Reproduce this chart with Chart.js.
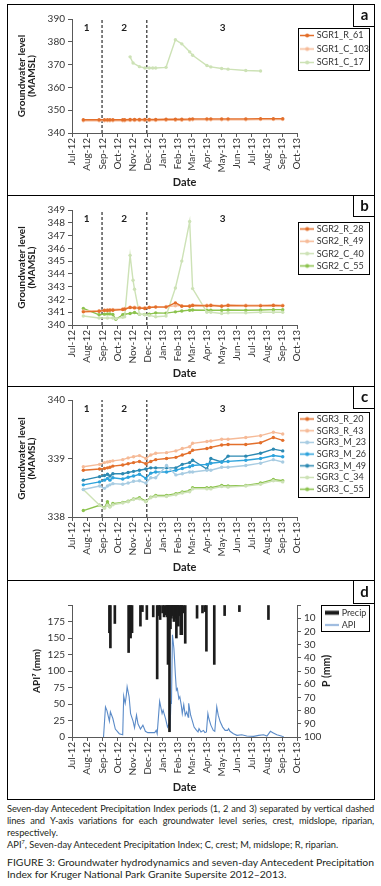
<!DOCTYPE html>
<html><head><meta charset="utf-8">
<script src="https://cdn.jsdelivr.net/npm/chart.js@4.4.0/dist/chart.umd.min.js"></script>
<style>
html,body{margin:0;padding:0;background:#fff;}
body{width:381px;height:886px;position:relative;overflow:hidden;font-family:Lato,'Open Sans',sans-serif;}
.frame{position:absolute;left:7px;top:4px;width:368px;height:796px;border:1px solid #000;box-sizing:border-box;}
.divider{position:absolute;left:7px;width:368px;height:1px;background:#000;}
canvas{position:absolute;left:8px;}
.tag{position:absolute;left:353px;width:22px;border-left:1px solid #000;border-bottom:1px solid #000;box-sizing:border-box;font:bold 15px Lato,sans-serif;color:#111;text-align:center;}
.cap{position:absolute;left:7px;width:367px;font-family:Lato,sans-serif;font-size:9.3px;line-height:12px;color:#231f20;white-space:nowrap;}
.j{text-align:justify;text-align-last:justify;}
.tight{letter-spacing:-0.12px;}
.fig{font-family:Lato,sans-serif;font-size:10.4px;line-height:12px;letter-spacing:0;}
</style></head>
<body>
<div class="frame"></div>
<div class="divider" style="top:195px"></div>
<div class="divider" style="top:386px"></div>
<div class="divider" style="top:580px"></div>
<canvas id="ca" width="365" height="190" style="top:5px"></canvas>
<canvas id="cb" width="365" height="190" style="top:196px"></canvas>
<canvas id="cc" width="365" height="193" style="top:387px"></canvas>
<canvas id="cd" width="365" height="218" style="top:581px"></canvas>
<div class="tag" style="top:4px;height:23px;line-height:21px">a</div>
<div class="tag" style="top:195px;height:22px;line-height:20px">b</div>
<div class="tag" style="top:386px;height:23px;line-height:21px">c</div>
<div class="tag" style="top:580px;height:24px;line-height:22px">d</div>
<div class="cap j tight" style="top:803px">Seven-day Antecedent Precipitation Index periods (1, 2 and 3) separated by vertical dashed</div>
<div class="cap j tight" style="top:815px">lines and Y-axis variations for each groundwater level series, crest, midslope, riparian,</div>
<div class="cap" style="top:827px">respectively.</div>
<div class="cap" style="top:839px">API<sup style="font-size:5.5px;line-height:0">7</sup>, Seven-day Antecedent Precipitation Index; C, crest; M, midslope; R, riparian.</div>
<div class="cap fig j" style="top:856px">FIGURE 3: Groundwater hydrodynamics and seven-day Antecedent Precipitation</div>
<div class="cap fig" style="top:868px">Index for Kruger National Park Granite Supersite 2012–2013.</div>
<script>
// ---------------- DATA ----------------
const xTickDates = ['2012-07-01','2012-08-01','2012-09-01','2012-10-01','2012-11-01','2012-12-01','2013-01-01','2013-02-01','2013-03-01','2013-04-01','2013-05-01','2013-06-01','2013-07-01','2013-08-01','2013-09-01','2013-10-01'];
const xTickLabels = ['Jul-12','Aug-12','Sep-12','Oct-12','Nov-12','Dec-12','Jan-13','Feb-13','Mar-13','Apr-13','May-13','Jun-13','Jul-13','Aug-13','Sep-13','Oct-13'];
const periodBounds = ['2012-08-31','2012-11-30'];
const periodLabels = ['1','2','3'];
const periodLabelDates = ['2012-07-31','2012-10-15','2013-05-03'];

// Panel a
const aTicks = [340,350,360,370,380,390];
const aDates = ['2012-07-24','2012-08-25','2012-09-05','2012-09-11','2012-09-16','2012-09-22','2012-10-12','2012-10-16','2012-10-27','2012-11-02','2012-11-05','2012-11-15','2012-11-26','2012-12-05','2012-12-12','2012-12-18','2013-01-08','2013-01-27','2013-02-09','2013-02-25','2013-03-03','2013-04-01','2013-04-09','2013-05-01','2013-05-14','2013-06-19','2013-07-19','2013-08-14','2013-09-02'];
const sgr1_R_61  = [345.8,345.8,345.8,345.8,345.8,345.8,345.8,345.8,345.9,null,345.9,345.9,345.9,345.9,null,345.9,346.0,346.0,346.0,346.1,346.2,346.2,346.2,346.2,346.2,346.2,346.3,346.3,346.3];
const sgr1_C_103 = [345.4,345.4,345.4,345.4,345.4,345.4,345.4,345.4,345.5,null,345.5,345.5,345.5,345.5,null,345.5,345.6,345.6,345.6,345.7,345.8,345.8,345.8,345.8,345.8,345.8,345.9,345.9,345.9];
const sgr1_C_17  = [null,null,null,null,null,null,null,null,373.4,370.7,null,369.1,368.5,368.5,368.5,368.5,368.8,380.9,379.1,375.6,374.1,369.6,369.0,368.3,368.0,367.4,367.2,null,null];

// Panel b
const bTicks = [340,341,342,343,344,345,346,347,348,349];
const bDates = ['2012-07-24','2012-08-25','2012-09-05','2012-09-11','2012-09-16','2012-09-22','2012-09-28','2012-10-12','2012-10-16','2012-10-27','2012-11-02','2012-11-05','2012-11-15','2012-11-26','2012-12-05','2012-12-12','2012-12-18','2013-01-08','2013-01-27','2013-02-09','2013-02-25','2013-03-03','2013-04-01','2013-04-09','2013-05-01','2013-05-14','2013-06-19','2013-07-19','2013-08-14','2013-09-02'];
const sgr2_R_28 = [341.03,341.08,341.14,341.14,341.16,341.16,null,341.21,341.24,341.37,null,341.34,341.32,341.29,341.37,null,341.4,341.4,341.73,341.47,341.47,341.53,341.5,341.53,341.47,341.53,341.5,341.5,341.53,341.5];
const sgr2_R_49 = [341.1,341.12,341.18,341.2,341.2,341.22,null,341.26,341.3,341.4,null,341.4,341.38,341.36,341.4,null,341.44,341.45,341.5,341.52,341.52,341.56,341.55,341.56,341.52,341.56,341.55,341.55,341.56,341.55];
const sgr2_C_40 = [340.7,340.55,null,340.55,null,340.55,340.5,340.6,340.65,345.45,343.5,342.8,340.85,340.8,340.75,null,340.65,340.7,342.9,345.0,348.1,342.85,341.0,341.0,340.9,340.95,340.95,341.0,341.0,341.0];
const sgr2_C_55 = [341.3,340.8,340.85,340.87,340.87,340.82,340.45,340.8,340.85,340.9,null,340.98,340.85,340.82,340.85,null,340.95,340.93,341.03,341.1,341.16,341.17,341.15,341.15,341.15,341.17,341.15,341.17,341.2,341.2];

// Panel c
const cTicks = [338,339,340];
const cDates = ['2012-07-24','2012-08-26','2012-09-05','2012-09-11','2012-09-16','2012-09-22','2012-10-12','2012-10-23','2012-11-03','2012-11-15','2012-11-28','2012-12-08','2012-12-18','2013-01-09','2013-01-28','2013-02-10','2013-02-25','2013-03-03','2013-04-01','2013-04-09','2013-05-01','2013-05-14','2013-06-19','2013-07-19','2013-08-14','2013-09-02'];
const sgr3_R_20 = [338.8,338.82,338.83,338.84,338.85,338.87,338.89,338.91,338.93,338.95,338.91,338.95,338.98,339.0,339.02,339.06,339.1,339.14,339.17,339.19,339.23,339.24,339.24,339.27,339.36,339.31];
const sgr3_R_43 = [338.86,338.9,338.93,338.94,338.95,338.96,338.98,339.01,339.03,339.05,339.0,339.06,339.09,339.1,339.13,339.17,339.2,339.26,339.29,339.3,339.33,339.33,339.36,339.39,339.45,339.42];
const sgr3_M_23 = [338.47,338.53,338.49,338.53,338.55,338.57,338.56,338.58,338.61,338.62,338.58,338.67,338.67,338.88,338.72,338.74,338.77,338.77,338.8,338.8,338.85,338.85,338.88,338.92,338.98,338.94];
const sgr3_M_26 = [338.55,338.6,338.63,338.66,338.63,338.67,338.65,338.68,338.7,338.73,338.66,338.75,338.77,338.77,338.8,338.83,338.86,338.88,338.9,338.92,338.94,338.95,338.97,339.0,339.05,339.03];
const sgr3_M_49 = [338.63,338.69,338.71,338.73,338.7,338.74,338.74,338.76,338.78,338.8,338.82,338.84,338.84,338.84,338.84,338.9,338.93,338.97,338.82,339.0,338.94,339.04,339.04,339.09,339.16,339.13];
const sgr3_C_34 = [338.47,338.2,338.15,338.2,338.17,338.21,338.24,338.26,338.3,338.31,338.26,338.33,338.35,338.35,338.38,338.41,338.43,338.48,338.48,338.48,338.52,338.51,338.53,338.56,338.62,338.6];
const sgr3_C_55 = [338.11,338.2,338.16,338.26,338.18,338.23,338.25,338.27,338.31,338.33,338.27,338.34,338.37,338.37,338.4,338.43,338.45,338.5,338.5,338.5,338.54,338.53,338.54,338.58,338.64,338.62];

// Panel d
const dApiTicks = [0,25,50,75,100,125,150,175,200];
const dApiLabels = ['0','25','50','75','100','125','150','175',''];
const dPTicks = [0,10,20,30,40,50,60,70,80,90,100];
const dPLabels = ['','10','20','30','40','50','60','70','80','90','100'];
const apiDates = ['2012-09-03','2012-09-07','2012-09-10','2012-09-15','2012-09-17','2012-09-22','2012-09-27','2012-10-05','2012-10-12','2012-10-14','2012-10-17','2012-10-19','2012-10-21','2012-10-25','2012-10-28','2012-11-02','2012-11-05','2012-11-09','2012-11-12','2012-11-17','2012-11-22','2012-11-27','2012-12-02','2012-12-16','2012-12-19','2012-12-21','2012-12-26','2012-12-31','2013-01-02','2013-01-07','2013-01-11','2013-01-14','2013-01-16','2013-01-18','2013-01-19','2013-01-21','2013-01-24','2013-01-27','2013-01-29','2013-01-31','2013-02-03','2013-02-05','2013-02-08','2013-02-10','2013-02-13','2013-02-16','2013-02-19','2013-02-22','2013-02-23','2013-02-27','2013-03-03','2013-03-06','2013-03-11','2013-03-14','2013-03-16','2013-03-20','2013-03-25','2013-03-28','2013-03-31','2013-04-03','2013-04-05','2013-04-09','2013-04-14','2013-04-17','2013-04-21','2013-04-24','2013-04-28','2013-05-03','2013-05-08','2013-05-13','2013-05-15','2013-05-18','2013-05-25','2013-06-01','2013-06-11','2013-06-21','2013-07-05','2013-07-15','2013-07-25','2013-08-01','2013-08-08','2013-08-13','2013-08-21','2013-09-01','2013-09-04'];
const apiValues = [0,45.6,40,24,38,28,12,5,3.5,62,51,61,76,61,35.5,24,14,33,20,12,18,8.6,6.6,6.6,10,5,54,35.5,40.6,28,15,20,8.6,55,50,155,134,94,71,73.5,58,61,48,35.5,49,33,38,30,51,33,23,15,10,7.6,12.7,7.6,10,6.6,7.6,35.5,28,18,10,8.6,45.6,33,23,15,10,10,12.7,8.6,5,2.5,3.5,1.5,1,2.5,3.5,1.5,8.6,6.6,3.5,1,0.5];
const precipDates = ['2012-09-15','2012-09-17','2012-09-26','2012-10-24','2012-10-26','2012-10-28','2012-10-31','2012-11-17','2012-11-21','2012-11-30','2012-12-13','2012-12-21','2012-12-24','2012-12-27','2013-01-01','2013-01-04','2013-01-08','2013-01-10','2013-01-12','2013-01-13','2013-01-15','2013-01-17','2013-01-19','2013-01-21','2013-01-22','2013-01-24','2013-01-26','2013-01-27','2013-01-29','2013-01-31','2013-02-01','2013-02-02','2013-02-05','2013-02-07','2013-02-09','2013-02-12','2013-02-16','2013-03-12','2013-03-23','2013-03-28','2013-03-31','2013-04-16','2013-05-07','2013-06-06','2013-08-04'];
const precipValues = [21,32.5,14,36,20,25,21,16,5,11,9,56,8,11,6,9,7.5,9,45,12,96,18,10,7.5,8,12.5,10,9,25,12,9,16,8,22.5,22.5,6,29,10,6,5,35,45,8,5,11];

// ---------------- STYLE / HELPERS ----------------
Chart.defaults.font.family = "Lato, 'Open Sans', sans-serif";
const TXT = '#333', AX = '#595959', TTL = '#1e1e1e';
const C_DARKOR = '#E36F2B', C_LIGHTOR = '#F6BA97', C_PALEGR = '#CDE2B6', C_GREEN = '#8CC34E';
const C_LBLUE = '#A8CCE2', C_BLUE = '#2DA3DC', C_TEAL = '#2C89B2', C_API = '#5B8BC8';
const ts = s => Date.parse(s);
const X_MIN = ts(xTickDates[0]), X_MAX = ts(xTickDates[xTickDates.length-1]);

function lineIcon(color, marker, lw){
  const c = document.createElement('canvas'); c.width = 14; c.height = 7;
  const g = c.getContext('2d'); g.strokeStyle = color; g.lineWidth = lw;
  g.beginPath(); g.moveTo(0,3.5); g.lineTo(14,3.5); g.stroke();
  if (marker){ g.fillStyle = color; g.beginPath(); g.arc(7,3.5,2,0,Math.PI*2); g.fill(); }
  return c;
}
function series(label, dates, values, color){
  return { label, data: dates.map((d,i)=>({x:ts(d), y:values[i]})), borderColor:color, backgroundColor:color,
    pointBackgroundColor:color, pointBorderWidth:0, borderWidth:1.4, pointRadius:1.7, pointHoverRadius:0,
    spanGaps:true, tension:0, legendIcon: lineIcon(color, true, 1.5) };
}
function bounds(ticks){
  const lo = ticks[0], hi = ticks[ticks.length-1];
  return periodBounds.map(d=>({ label:'', data:[{x:ts(d),y:lo},{x:ts(d),y:hi}], borderColor:'#000', borderWidth:1,
    borderDash:[3,2], pointRadius:0, order:10 }));
}
function legendLabels(chart){
  return chart.data.datasets.map((ds,i)=> ds.legendIcon ? {text:ds.label, pointStyle:ds.legendIcon, datasetIndex:i,
    hidden:false, fillStyle:'rgba(0,0,0,0)', strokeStyle:'rgba(0,0,0,0)', lineWidth:0, fontColor:TXT} : null).filter(Boolean);
}
function xScale(h, pb){
  return { type:'linear', min:X_MIN, max:X_MAX, offset:false,
    afterBuildTicks: s => { s.ticks = xTickDates.map(d=>({value:ts(d)})); },
    ticks:{ autoSkip:false, minRotation:90, maxRotation:90, padding:1, color:TXT, font:{size:10},
      callback:(v,i)=> xTickLabels[i] },
    grid:{ display:true, drawOnChartArea:false, drawTicks:true, tickLength:4, color:AX, offset:false },
    border:{ display:true, color:AX, width:1 },
    title:{ display:true, text:'Date', color:TTL, font:{size:11, weight:'bold', lineHeight:1.2}, padding:{top:0,bottom:pb} },
    afterFit: s => { s.height = h; } };
}
function yScale(ticks, labels, title, tpad, pos, extra){
  return Object.assign({ type:'linear', position:pos||'left', min:ticks[0], max:ticks[ticks.length-1],
    afterBuildTicks: s => { s.ticks = ticks.map(v=>({value:v})); },
    ticks:{ autoSkip:false, color:TXT, font:{size:10}, padding:3, callback:(v,i)=> labels ? labels[i] : String(ticks[i]) },
    grid:{ display:true, drawOnChartArea:false, drawTicks:true, tickLength:4, color:AX },
    border:{ display:true, color:AX, width:1 },
    title:{ display:!!title, text:title, color:TTL, font:{size:10, weight:'bold', lineHeight:1.0}, padding:{top:tpad,bottom:0} },
    afterFit: s => { s.width = (pos==='right') ? 76 : 64; } }, extra||{});
}
const legendPlace = {
  id:'legendPlace',
  afterLayout(chart, args, o){ const lg = chart.legend; if(!lg) return;
    lg.left = o.left; lg.top = o.top; lg.right = o.left + lg.width; lg.bottom = o.top + lg.height; },
  afterDraw(chart, args, o){ const c = chart.ctx; const b = o.box; c.save(); c.strokeStyle = '#000'; c.lineWidth = 1;
    c.strokeRect(b[0]+0.5, b[1]+0.5, b[2]-b[0], b[3]-b[1]); c.restore(); }
};
const periodText = {
  id:'periodText',
  afterDatasetsDraw(chart, args, o){ if(!o.show) return; const {ctx, chartArea} = chart; const x = chart.scales.x;
    ctx.save(); ctx.font = "bold 10px Lato, sans-serif"; ctx.fillStyle = TTL; ctx.textAlign = 'center'; ctx.textBaseline = 'middle';
    periodLabelDates.forEach((d,i)=> ctx.fillText(periodLabels[i], x.getPixelForValue(ts(d)), chartArea.top + 9));
    ctx.restore(); }
};
const rightTitle = {
  id:'rightTitle',
  afterDraw(chart, args, o){ if(!o.text) return; const {ctx, chartArea} = chart;
    ctx.save(); ctx.translate(chartArea.right + 30, (chartArea.top + chartArea.bottom)/2); ctx.rotate(-Math.PI/2);
    ctx.font = "bold 10.5px Lato, sans-serif"; ctx.fillStyle = TTL; ctx.textAlign = 'center'; ctx.textBaseline = 'middle';
    ctx.fillText(o.text, 0, 0); ctx.restore(); }
};
function opts(p){
  return { responsive:false, animation:false, devicePixelRatio:1, events:[],
    layout:{ padding:{ left:0, right:p.padRight, top:p.padTop, bottom:0 } },
    plugins:{
      legend:{ display:true, position:'chartArea', align:'start',
        labels:{ usePointStyle:true, pointStyleWidth:10, boxHeight:9, padding:p.legPad, font:{size:9}, color:TXT, generateLabels:legendLabels } },
      tooltip:{ enabled:false },
      legendPlace:{ left:p.legLeft, top:p.legTop, box:p.box },
      periodText:{ show:p.periods },
      rightTitle:{ text:p.rightTitle || '' }
    },
    scales: p.scales };
}
const plugins = [legendPlace, periodText, rightTitle];

// Panel a
new Chart(document.getElementById('ca'), { type:'line', plugins,
  data:{ datasets:[ series('SGR1_R_61', aDates, sgr1_R_61, C_DARKOR), series('SGR1_C_103', aDates, sgr1_C_103, C_LIGHTOR),
    series('SGR1_C_17', aDates, sgr1_C_17, C_PALEGR), ...bounds(aTicks) ] },
  options: opts({ padRight:76, padTop:14, legPad:4.5, legLeft:289.7, legTop:21.5, box:[290,23,361,65], periods:true,
    scales:{ x:xScale(62, 6.4), y:yScale(aTicks, null, ['Groundwater level','(MAMSL)'], 9) } }) });

// Panel b
new Chart(document.getElementById('cb'), { type:'line', plugins,
  data:{ datasets:[ series('SGR2_R_28', bDates, sgr2_R_28, C_DARKOR), series('SGR2_R_49', bDates, sgr2_R_49, C_LIGHTOR),
    series('SGR2_C_40', bDates, sgr2_C_40, C_PALEGR), series('SGR2_C_55', bDates, sgr2_C_55, C_GREEN), ...bounds(bTicks) ] },
  options: opts({ padRight:76, padTop:14, legPad:3.3, legLeft:290.9, legTop:25.2, box:[290,26,361,78], periods:true,
    scales:{ x:xScale(61, 6.4), y:yScale(bTicks, null, ['Groundwater level','(MAMSL)'], 9) } }) });

// Panel c
new Chart(document.getElementById('cc'), { type:'line', plugins,
  data:{ datasets:[ series('SGR3_R_20', cDates, sgr3_R_20, C_DARKOR), series('SGR3_R_43', cDates, sgr3_R_43, C_LIGHTOR),
    series('SGR3_M_23', cDates, sgr3_M_23, C_LBLUE), series('SGR3_M_26', cDates, sgr3_M_26, C_BLUE),
    series('SGR3_M_49', cDates, sgr3_M_49, C_TEAL), series('SGR3_C_34', cDates, sgr3_C_34, C_PALEGR),
    series('SGR3_C_55', cDates, sgr3_C_55, C_GREEN), ...bounds(cTicks) ] },
  options: opts({ padRight:76, padTop:13, legPad:2.7, legLeft:291.5, legTop:24.8, box:[290,25,361,110], periods:true,
    scales:{ x:xScale(63, 6.4), y:yScale(cTicks, null, ['Groundwater level','(MAMSL)'], 9) } }) });

// Panel d
new Chart(document.getElementById('cd'), { type:'line', plugins,
  data:{ datasets:[
    { type:'bar', label:'Precip', yAxisID:'y2', data: precipDates.map((d,i)=>({x:ts(d), y:precipValues[i]})),
      backgroundColor:'#1c1c1c', borderWidth:0, barThickness:2, legendIcon: lineIcon('#1c1c1c', false, 4) },
    { type:'line', label:'API', yAxisID:'y', data: apiDates.map((d,i)=>({x:ts(d), y:apiValues[i]})),
      borderColor:C_API, borderWidth:1.1, pointRadius:0, tension:0, legendIcon: lineIcon(C_API, false, 1.3) } ] },
  options: opts({ padRight:0, padTop:24, legPad:3.3, legLeft:315.9, legTop:23.9, box:[313,24,361,50], periods:false, rightTitle:'P (mm)',
    scales:{ x:xScale(62, 5.4), y:yScale(dApiTicks, dApiLabels, 'API\u2077 (mm)', 23.5),
      y2:yScale(dPTicks, dPLabels, null, 0, 'right', { reverse:true }) } }) });
</script>
</body></html>
